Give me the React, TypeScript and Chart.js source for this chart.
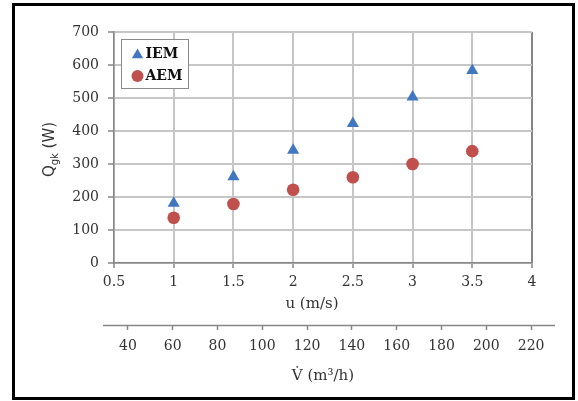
import { useEffect, useRef } from 'react';
import { Chart, registerables } from 'chart.js';
import { drawPoint } from 'chart.js/helpers';

Chart.register(...registerables);

// Air speed (m/s) on the main axis, volume flow (m³/h) on the secondary one
const speedTicks = [0.5, 1, 1.5, 2, 2.5, 3, 3.5, 4];
const powerTicks = [0, 100, 200, 300, 400, 500, 600, 700];
const flowTicks = [40, 60, 80, 100, 120, 140, 160, 180, 200, 220];
const flowMin = 33.8;
const flowMax = 220.4;

// Heat gain Q_gk (W) for each measured speed
const speeds = [1, 1.5, 2, 2.5, 3, 3.5];
const iemValues = [181, 261, 342, 423, 503, 583];
const aemValues = [137, 179, 222, 260, 300, 339];

const SERIF = '"DejaVu Serif", serif';
const SANS = '"DejaVu Sans", sans-serif';
const GRID = '#c6c6c6';
const AXIS = '#868686';
const TEXT = '#333333';
const SPEED_TITLE = 'u (m/s)';

const decorations = {
  id: 'decorations',
  afterDraw(chart: any) {
    const { ctx, chartArea } = chart;
    ctx.save();

    // outer frame
    ctx.strokeStyle = '#000';
    ctx.lineWidth = 3;
    ctx.strokeRect(13.5, 4.5, 560, 394);

    // speed axis title, set a little left of centre
    const xs = chart.scales.x;
    ctx.fillStyle = TEXT;
    ctx.font = `15px ${SERIF}`;
    ctx.textAlign = 'center';
    ctx.textBaseline = 'middle';
    ctx.fillText(SPEED_TITLE, (xs.left + xs.right) / 2 - 11, xs.top + 41);

    // y axis title with subscript
    const cy = (chartArea.top + chartArea.bottom) / 2 + 2;
    ctx.translate(50, cy);
    ctx.rotate(-Math.PI / 2);
    ctx.textBaseline = 'middle';
    ctx.textAlign = 'left';
    const q = 'Q';
    const rest = ' (W)';
    ctx.font = `15px ${SANS}`;
    const wq = ctx.measureText(q).width;
    const wr = ctx.measureText(rest).width;
    ctx.font = `10px ${SANS}`;
    const ws = ctx.measureText('gk').width;
    let x = -(wq + ws + wr) / 2;
    ctx.font = `15px ${SANS}`;
    ctx.fillText(q, x, 0);
    x += wq;
    ctx.font = `10px ${SANS}`;
    ctx.fillText('gk', x, 5);
    x += ws;
    ctx.font = `15px ${SANS}`;
    ctx.fillText(rest, x, 0);
    ctx.setTransform(1, 0, 0, 1, 0, 0);

    // secondary axis line, running past the plot edges
    const x2 = chart.scales.x2;
    ctx.strokeStyle = AXIS;
    ctx.lineWidth = 1.5;
    ctx.beginPath();
    ctx.moveTo(x2.left - 11, x2.top + 0.5);
    ctx.lineTo(x2.right + 23, x2.top + 0.5);
    ctx.stroke();

    // legend box inside the plot
    const lx = chartArea.left + 7.5;
    const ly = chartArea.top + 7.5;
    ctx.fillStyle = '#fff';
    ctx.fillRect(lx, ly, 67, 49);
    ctx.strokeStyle = '#8a8a8a';
    ctx.lineWidth = 1;
    ctx.strokeRect(lx, ly, 67, 49);
    ctx.font = `bold 14px ${SERIF}`;
    ctx.textBaseline = 'middle';
    ctx.textAlign = 'left';
    chart.data.datasets.forEach((ds: any, i: number) => {
      const rowY = ly + 14 + i * 22.5;
      const tri = ds.pointStyle === 'triangle';
      ctx.fillStyle = ds.backgroundColor;
      drawPoint(ctx, { pointStyle: ds.pointStyle, radius: tri ? 6.5 : 6, borderWidth: 0, rotation: 0 } as any, lx + 16, rowY + (tri ? 1.5 : 0));
      ctx.fillStyle = '#111';
      ctx.fillText(ds.label, lx + 24, rowY + 0.5);
    });
    ctx.restore();
  },
};

export default function App() {
  const ref = useRef<HTMLCanvasElement>(null);

  useEffect(() => {
    if (!ref.current) return;
    const chart = new Chart(ref.current, {
      type: 'scatter',
      data: {
        datasets: [
          {
            label: 'IEM',
            data: speeds.map((u, i) => ({ x: u, y: iemValues[i] })),
            pointStyle: 'triangle',
            pointRadius: 7,
            backgroundColor: '#4177c0',
            borderColor: '#4177c0',
            borderWidth: 0,
          },
          {
            label: 'AEM',
            data: speeds.map((u, i) => ({ x: u, y: aemValues[i] })),
            pointStyle: 'circle',
            pointRadius: 6.3,
            backgroundColor: '#c0504d',
            borderColor: '#c0504d',
            borderWidth: 0,
          },
        ],
      },
      options: {
        animation: false,
        responsive: false,
        devicePixelRatio: 1,
        layout: { padding: { top: 32, right: 46, bottom: 11, left: 0 } },
        plugins: { legend: { display: false }, tooltip: { enabled: false } },
        scales: {
          x: {
            type: 'linear',
            position: 'bottom',
            weight: 0,
            min: 0.5,
            max: 4,
            afterBuildTicks: (s: any) => {
              s.ticks = speedTicks.map((v) => ({ value: v }));
            },
            afterFit: (s: any) => {
              s.height = 62;
            },
            ticks: {
              callback: (v: any) => String(v),
              font: { family: SERIF, size: 14 },
              color: TEXT,
              padding: 6,
              maxRotation: 0,
            },
            grid: {
              z: -1,
              color: (c: any) => (c.tick && c.tick.value === 4 ? AXIS : GRID),
              lineWidth: 2,
              tickColor: AXIS,
              tickLength: 5,
              tickWidth: 1.5,
            },
            border: { color: AXIS, width: 1.5 },
            title: { display: false },
          },
          x2: {
            type: 'linear',
            position: 'bottom',
            weight: 1,
            min: flowMin,
            max: flowMax,
            afterBuildTicks: (s: any) => {
              s.ticks = flowTicks.map((v) => ({ value: v }));
            },
            afterFit: (s: any) => {
              s.height = 65;
            },
            ticks: {
              callback: (v: any) => String(v),
              font: { family: SERIF, size: 14 },
              color: TEXT,
              padding: 8,
              maxRotation: 0,
            },
            grid: {
              z: -1,
              drawOnChartArea: false,
              color: AXIS,
              tickColor: AXIS,
              tickLength: 5,
              tickWidth: 1.5,
            },
            border: { display: false },
            title: {
              display: true,
              text: 'V\u0307 (m\u00b3/h)',
              font: { family: SERIF, size: 15 },
              color: TEXT,
              padding: { top: 0, bottom: 5 },
            },
          },
          y: {
            type: 'linear',
            min: 0,
            max: 700,
            afterBuildTicks: (s: any) => {
              s.ticks = powerTicks.map((v) => ({ value: v }));
            },
            afterFit: (s: any) => {
              s.width = 114;
            },
            ticks: {
              font: { family: SERIF, size: 14 },
              color: TEXT,
              padding: 9,
            },
            grid: {
              z: -1,
              color: GRID,
              lineWidth: 2,
              tickColor: AXIS,
              tickLength: 6,
              tickWidth: 1.5,
            },
            border: { color: AXIS, width: 1.5 },
          },
        },
      } as any,
      plugins: [decorations],
    });
    return () => chart.destroy();
  }, []);

  return (
    <div style={{ position: 'absolute', left: 0, top: 0, width: 578, height: 401, background: '#fff' }}>
      <canvas ref={ref} width={578} height={401} style={{ display: 'block' }} />
    </div>
  );
}
